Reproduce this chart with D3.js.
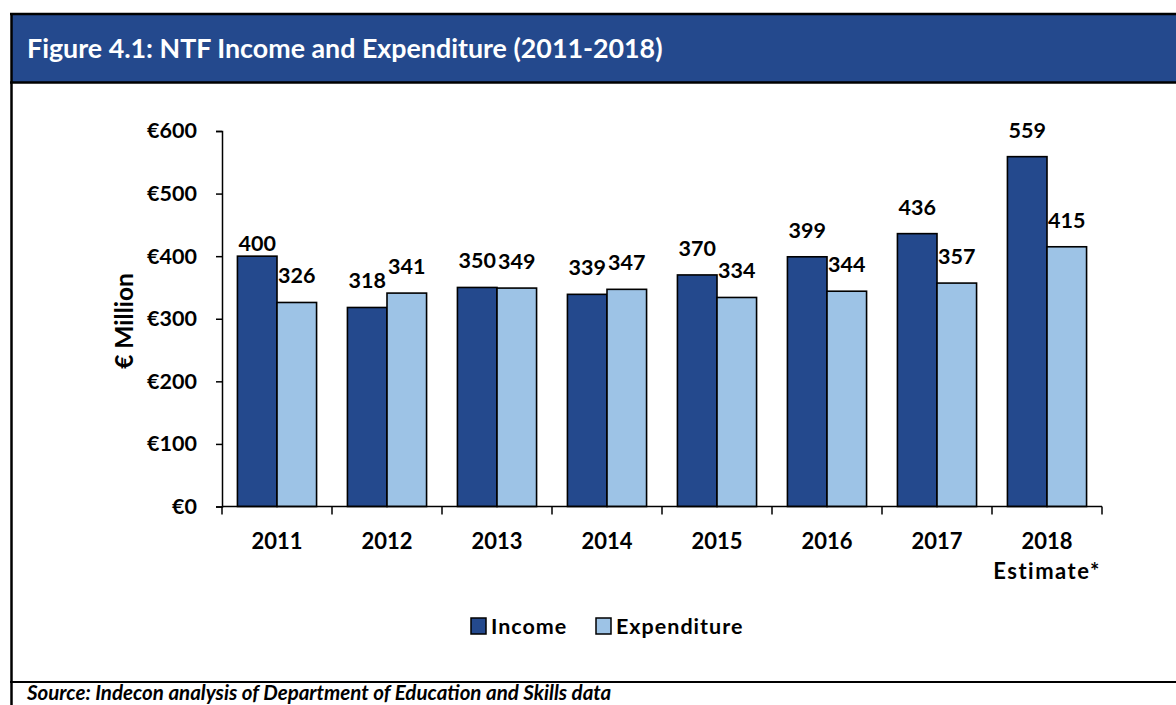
<!DOCTYPE html>
<html>
<head>
<meta charset="utf-8">
<script src="https://cdn.jsdelivr.net/npm/d3@7"></script>
<style>
  html, body { margin: 0; padding: 0; background: #fff; }
  svg { display: block; font-family: Lato, "Open Sans", sans-serif; }
</style>
</head>
<body>
<svg id="chart" width="1176" height="705"></svg>
<script>
// NTF income and expenditure, € million
const years = ["2011", "2012", "2013", "2014", "2015", "2016", "2017", "2018"];
const yearNotes = ["", "", "", "", "", "", "", "Estimate*"];
const series = ["Income", "Expenditure"];
const income = [400, 318, 350, 339, 370, 399, 436, 559];
const expenditure = [326, 341, 349, 347, 334, 344, 357, 415];
const yTicks = [0, 100, 200, 300, 400, 500, 600];

const colors = { Income: "#24498d", Expenditure: "#9dc3e6" };

const svg = d3.select("#chart");
const W = 1176, H = 705;

// Frame and title band
svg.append("rect").attr("x", 11).attr("y", 14).attr("width", W).attr("height", 69)
  .attr("fill", "#24498d");
svg.append("line").attr("x1", 10).attr("x2", W).attr("y1", 14).attr("y2", 14)
  .attr("stroke", "#000").attr("stroke-width", 2.5);
svg.append("line").attr("x1", 10).attr("x2", W).attr("y1", 82.5).attr("y2", 82.5)
  .attr("stroke", "#000").attr("stroke-width", 2.5);
svg.append("line").attr("x1", 11.5).attr("x2", 11.5).attr("y1", 13).attr("y2", H)
  .attr("stroke", "#000").attr("stroke-width", 2.5);
svg.append("line").attr("x1", 10).attr("x2", W).attr("y1", 682).attr("y2", 682)
  .attr("stroke", "#000").attr("stroke-width", 2);

svg.append("text").attr("x", 27).attr("y", 58)
  .attr("fill", "#fff").attr("font-size", 26.8).attr("font-weight", 700)
  .text("Figure 4.1: NTF Income and Expenditure (2011-2018)");

svg.append("text").attr("x", 27).attr("y", 699.5)
  .attr("fill", "#000").attr("font-size", 20.5).attr("font-weight", 700)
  .attr("font-style", "italic")
  .text("Source: Indecon analysis of Department of Education and Skills data");

// Plot scales
const plot = { left: 222, right: 1102, top: 131, bottom: 506.5 };
const x0 = d3.scaleBand().domain(years).range([plot.left, plot.right]).paddingInner(0).paddingOuter(0);
const x1 = d3.scaleBand().domain(series).range([0, x0.bandwidth()]).paddingInner(0).paddingOuter(0.39);
const y = d3.scaleLinear().domain([0, 600]).range([plot.bottom, plot.top]);

const rows = years.map((yr, i) => ({ year: yr, note: yearNotes[i], values: [
  { key: "Income", value: income[i] },
  { key: "Expenditure", value: expenditure[i] }
]}));

// Y axis
const yAxis = svg.append("g").attr("transform", `translate(${plot.left},0)`)
  .call(d3.axisLeft(y).tickValues(yTicks).tickSize(6).tickPadding(19).tickFormat(d => "€" + d));
yAxis.select(".domain").attr("stroke", "#000").attr("stroke-width", 1.5);
yAxis.selectAll(".tick line").attr("stroke", "#000").attr("stroke-width", 1.5);
yAxis.selectAll(".tick text").attr("fill", "#000").attr("font-size", 21.5)
  .attr("font-weight", 700).attr("font-family", "Lato, sans-serif");

svg.append("text")
  .attr("transform", "translate(133,321) rotate(-90)")
  .attr("text-anchor", "middle").attr("font-size", 24.5).attr("font-weight", 700)
  .text("€ Million");

// Bars
const groups = svg.selectAll("g.year").data(rows).join("g")
  .attr("class", "year").attr("transform", d => `translate(${x0(d.year)},0)`);

groups.selectAll("rect").data(d => d.values).join("rect")
  .attr("x", d => x1(d.key))
  .attr("y", d => y(d.value))
  .attr("width", x1.bandwidth())
  .attr("height", d => y(0) - y(d.value))
  .attr("fill", d => colors[d.key])
  .attr("stroke", "#000").attr("stroke-width", 1.6);

// Value labels; the first income label sits lower so it clears the axis
const labelLift = d => (d.key === "Income" && d.value === income[0]) ? 5 : 19;
groups.selectAll("text.val").data(d => d.values).join("text")
  .attr("class", "val")
  .attr("x", d => x1(d.key) + x1.bandwidth() / 2)
  .attr("y", d => y(d.value) - labelLift(d))
  .attr("text-anchor", "middle").attr("font-size", 21.5).attr("font-weight", 700)
  .text(d => d.value);

// X axis
const xAxis = svg.append("g").attr("transform", `translate(0,${plot.bottom})`);
xAxis.append("line").attr("x1", plot.left).attr("x2", plot.right)
  .attr("stroke", "#000").attr("stroke-width", 1.5);
xAxis.selectAll("line.tk").data(years.concat(["end"])).join("line").attr("class", "tk")
  .attr("x1", (d, i) => i < years.length ? x0(d) : plot.right)
  .attr("x2", (d, i) => i < years.length ? x0(d) : plot.right)
  .attr("y1", 0).attr("y2", 8).attr("stroke", "#000").attr("stroke-width", 1.5);
const xl = xAxis.selectAll("text.yr").data(rows).join("text").attr("class", "yr")
  .attr("x", d => x0(d.year) + x0.bandwidth() / 2)
  .attr("y", 42).attr("text-anchor", "middle")
  .attr("font-size", 22).attr("font-weight", 700);
xl.append("tspan").text(d => d.year);
xl.filter(d => d.note).append("tspan")
  .attr("x", d => x0(d.year) + x0.bandwidth() / 2).attr("dy", 30)
  .attr("letter-spacing", 1.5).text(d => d.note);

// Legend
const legend = svg.append("g").attr("transform", "translate(471,618)");
const li = legend.selectAll("g").data(series).join("g")
  .attr("transform", (d, i) => `translate(${i * 125},0)`);
li.append("rect").attr("width", 15).attr("height", 16)
  .attr("fill", d => colors[d]).attr("stroke", "#000").attr("stroke-width", 1.5);
li.append("text").attr("x", 20).attr("y", 16)
  .attr("font-size", 21.5).attr("font-weight", 700).attr("letter-spacing", 1)
  .text(d => d);
</script>
</body>
</html>
